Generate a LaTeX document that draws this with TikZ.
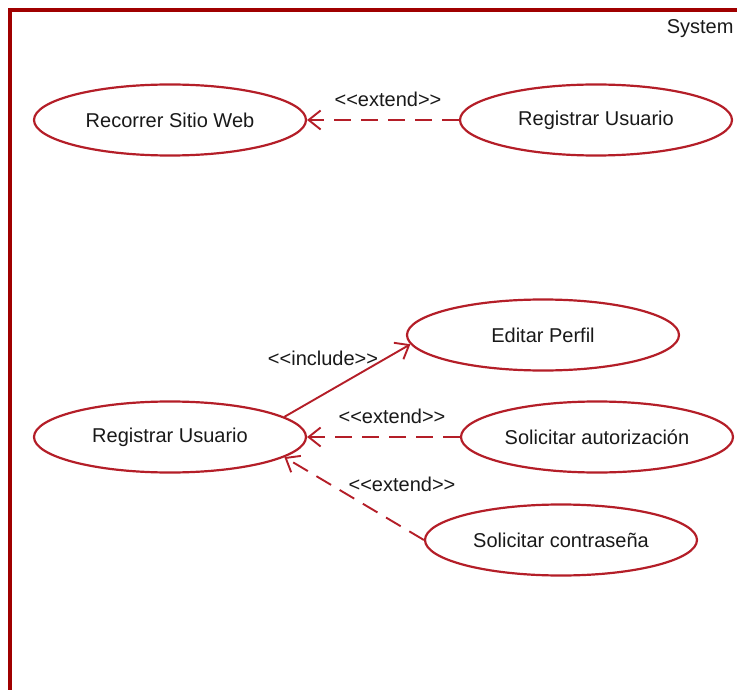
\documentclass[tikz,border=0pt]{standalone}
\usepackage{fontspec}
\newfontfamily\umlfont{Liberation Sans}
\usetikzlibrary{arrows.meta,shapes.geometric}
\definecolor{sysred}{RGB}{160,0,0}
\definecolor{ucred}{RGB}{180,30,40}
\begin{document}
\begin{tikzpicture}
  [x=1pt,y=-1pt,
   every node/.style={font=\umlfont\fontsize{20}{24}\selectfont,text=black!90},
   usecase/.style={ellipse,draw=ucred,line width=2.2pt,minimum width=272pt,minimum height=71pt,inner sep=0pt},
   ext/.style={draw=ucred,line width=1.9pt,dash pattern=on 17pt off 10pt,-{Straight Barb[length=12pt,width=19pt]}},
   inc/.style={draw=ucred,line width=1.9pt,-{Straight Barb[length=12pt,width=19pt]}}]
  \useasboundingbox (0,0) rectangle (737,690);
  \draw[sysred,line width=4.5pt] (10,695) -- (10,10) -- (740,10);
  \node[anchor=east] (sys) at (737,29) {System};

  \node[usecase] (rec)  at (170,120) {Recorrer Sitio Web};
  \node[usecase] (reg1) at (596,120) {Registrar Usuario};
  \node[usecase] (reg2) at (170,437) {Registrar Usuario};
  \node[usecase] (edit) at (543,335) {Editar Perfil};
  \node[usecase] (auth) at (597,437) {Solicitar autorización};
  \node[usecase] (pass) at (561,540) {Solicitar contraseña};

  \node (l1) at (388,99)  {<<extend>>};
  \node (l2) at (323,358) {<<include>>};
  \node (l3) at (392,416) {<<extend>>};
  \node (l4) at (402,484) {<<extend>>};

  \foreach \from/\to in {reg1.west/rec.east,auth.west/reg2.east,pass.west/reg2.-10}
    \draw[ext] (\from) -- (\to);
  \draw[inc] (reg2.10) -- (edit.184);

\end{tikzpicture}
\end{document}
